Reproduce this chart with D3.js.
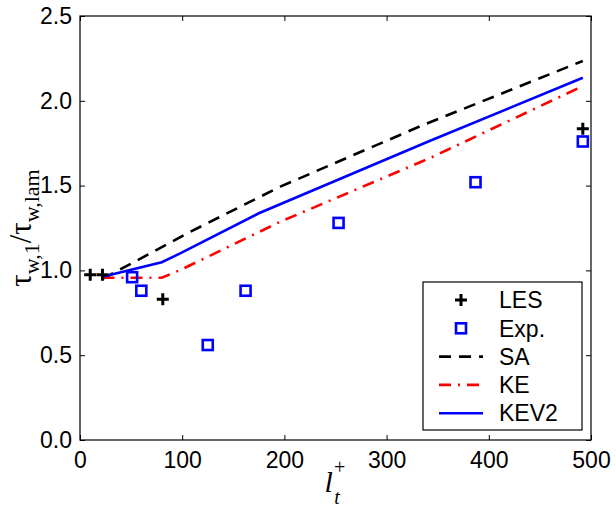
<!DOCTYPE html>
<html>
<head>
<meta charset="utf-8">
<script src="https://cdn.jsdelivr.net/npm/d3@7"></script>
<style>
  body { margin: 0; background: #fff; }
  svg { display: block; }
  .tick text { font-family: "Liberation Sans", Arial, sans-serif; }
</style>
</head>
<body>
<div id="chart"></div>
<script>
// data
const xTicks = [0, 100, 200, 300, 400, 500];
const yTicks = [0.0, 0.5, 1.0, 1.5, 2.0, 2.5];

const lesX = [10, 22, 81, 492];
const lesY = [0.975, 0.975, 0.83, 1.835];

const expX = [51, 60, 125, 162, 253, 387, 492];
const expY = [0.96, 0.88, 0.56, 0.88, 1.28, 1.52, 1.76];

const saX = [22, 50, 108, 196, 334, 492];
const saY = [0.95, 1.04, 1.228, 1.494, 1.853, 2.235];

const keX = [22, 80, 98, 196, 342, 492];
const keY = [0.957, 0.957, 1.002, 1.287, 1.661, 2.087];

const kev2X = [22, 80, 98, 175, 342, 492];
const kev2Y = [0.963, 1.048, 1.10, 1.337, 1.763, 2.136];

function drawChart(containerId) {
  const margin = { top: 16, right: 25, bottom: 68, left: 80 },
        width = 616 - margin.left - margin.right,
        height = 508 - margin.top - margin.bottom;

  const root = d3.select(`#${containerId}`)
      .append("svg")
          .attr("width", 616)
          .attr("height", 508);

  const svg = root.append("g")
      .attr("transform", `translate(${margin.left},${margin.top})`);

  const x = d3.scaleLinear().domain([0, 500]).range([0, width]);
  const y = d3.scaleLinear().domain([0, 2.5]).range([height, 0]);

  const fontSize = "23px";

  // axes, ticks pointing inward on all four sides
  const gx = svg.append("g")
      .attr("transform", `translate(0,${height})`)
      .call(d3.axisBottom(x).tickValues(xTicks).tickSizeInner(-5).tickSizeOuter(0).tickPadding(12));
  gx.selectAll("text").style("font-size", fontSize).attr("fill", "#000");

  svg.append("g")
      .call(d3.axisTop(x).tickValues(xTicks).tickSizeInner(-5).tickSizeOuter(0).tickFormat(""));

  const gy = svg.append("g")
      .call(d3.axisLeft(y).tickValues(yTicks).tickSizeInner(-5).tickSizeOuter(0).tickPadding(8)
          .tickFormat(d3.format(".1f")));
  gy.selectAll("text").style("font-size", fontSize).attr("fill", "#000");

  svg.append("g")
      .attr("transform", `translate(${width},0)`)
      .call(d3.axisRight(y).tickValues(yTicks).tickSizeInner(-5).tickSizeOuter(0).tickFormat(""));

  svg.selectAll(".domain").remove();
  svg.selectAll(".tick line").attr("stroke", "#000");

  svg.append("rect")
      .attr("width", width)
      .attr("height", height)
      .attr("fill", "none")
      .attr("stroke", "#000")
      .attr("stroke-width", 1.2);

  const line = d3.line()
      .x(d => x(d[0]))
      .y(d => y(d[1]));

  // SA
  svg.append("path")
      .datum(d3.zip(saX, saY))
      .attr("fill", "none")
      .attr("stroke", "#000")
      .attr("stroke-width", 2.6)
      .attr("stroke-dasharray", "12,8")
      .attr("d", line);

  // KE
  svg.append("path")
      .datum(d3.zip(keX, keY))
      .attr("fill", "none")
      .attr("stroke", "#ff0000")
      .attr("stroke-width", 2.6)
      .attr("stroke-dasharray", "12,7,2,7")
      .attr("d", line);

  // KEV2
  svg.append("path")
      .datum(d3.zip(kev2X, kev2Y))
      .attr("fill", "none")
      .attr("stroke", "#0000ff")
      .attr("stroke-width", 2.6)
      .attr("d", line);

  // Exp. squares
  svg.append("g")
      .selectAll("rect")
      .data(d3.zip(expX, expY))
      .join("rect")
          .attr("x", d => x(d[0]) - 5)
          .attr("y", d => y(d[1]) - 5)
          .attr("width", 10)
          .attr("height", 10)
          .attr("fill", "none")
          .attr("stroke", "#0000ff")
          .attr("stroke-width", 2.6);

  // LES plus signs
  svg.append("g")
      .selectAll("path")
      .data(d3.zip(lesX, lesY))
      .join("path")
          .attr("transform", d => `translate(${x(d[0])},${y(d[1])})`)
          .attr("d", "M-6,0H6M0,-6V6")
          .attr("stroke", "#000")
          .attr("stroke-width", 3);

  // y label (overlaps tick labels like the original)
  const ylab = root.append("text")
      .attr("transform", `translate(31,${margin.top + height / 2}) rotate(-90)`)
      .attr("text-anchor", "middle")
      .style("font-family", "'Liberation Serif', 'Times New Roman', serif")
      .style("font-size", "31px");
  ylab.append("tspan").text("τ");
  ylab.append("tspan").attr("dy", 8).style("font-size", "22px").text("w,1");
  ylab.append("tspan").attr("dy", -8).text("/τ");
  ylab.append("tspan").attr("dy", 8).style("font-size", "22px").text("w,lam");

  // x label
  const xlab = root.append("text")
      .attr("x", margin.left + width / 2 - 11)
      .attr("y", 492)
      .style("font-family", "'Liberation Serif', 'Times New Roman', serif")
      .style("font-style", "italic")
      .style("font-size", "30px");
  xlab.append("tspan").text("l");
  xlab.append("tspan").attr("dy", -18).style("font-size", "20px").text("+");
  xlab.append("tspan").attr("dx", -12).attr("dy", 30).style("font-size", "20px").text("t");

  // legend
  const lg = svg.append("g")
      .attr("transform", `translate(${423 - margin.left},${282 - margin.top})`);
  lg.append("rect")
      .attr("width", 159)
      .attr("height", 148)
      .attr("fill", "#fff")
      .attr("stroke", "#000")
      .attr("stroke-width", 1.2);

  const entries = [
    { name: "LES", kind: "plus" },
    { name: "Exp.", kind: "square" },
    { name: "SA", kind: "line", color: "#000", dash: "12,8" },
    { name: "KE", kind: "line", color: "#ff0000", dash: "12,7,2,7" },
    { name: "KEV2", kind: "line", color: "#0000ff", dash: null }
  ];

  entries.forEach((e, i) => {
    const cy = 18 + i * 28.3;
    const row = lg.append("g").attr("transform", `translate(0,${cy})`);
    if (e.kind === "plus") {
      row.append("path")
          .attr("transform", "translate(38,0)")
          .attr("d", "M-6,0H6M0,-6V6")
          .attr("stroke", "#000")
          .attr("stroke-width", 3);
    } else if (e.kind === "square") {
      row.append("rect")
          .attr("x", 33).attr("y", -5)
          .attr("width", 10).attr("height", 10)
          .attr("fill", "none")
          .attr("stroke", "#0000ff")
          .attr("stroke-width", 2.6);
    } else {
      row.append("line")
          .attr("x1", 16).attr("x2", 60)
          .attr("stroke", e.color)
          .attr("stroke-width", 2.6)
          .attr("stroke-dasharray", e.dash);
    }
    row.append("text")
        .attr("x", 76)
        .attr("dy", "0.36em")
        .style("font-family", "'Liberation Sans', Arial, sans-serif")
        .style("font-size", fontSize)
        .text(e.name);
  });
}

document.addEventListener("DOMContentLoaded", function () {
  drawChart("chart");
});
</script>
</body>
</html>
